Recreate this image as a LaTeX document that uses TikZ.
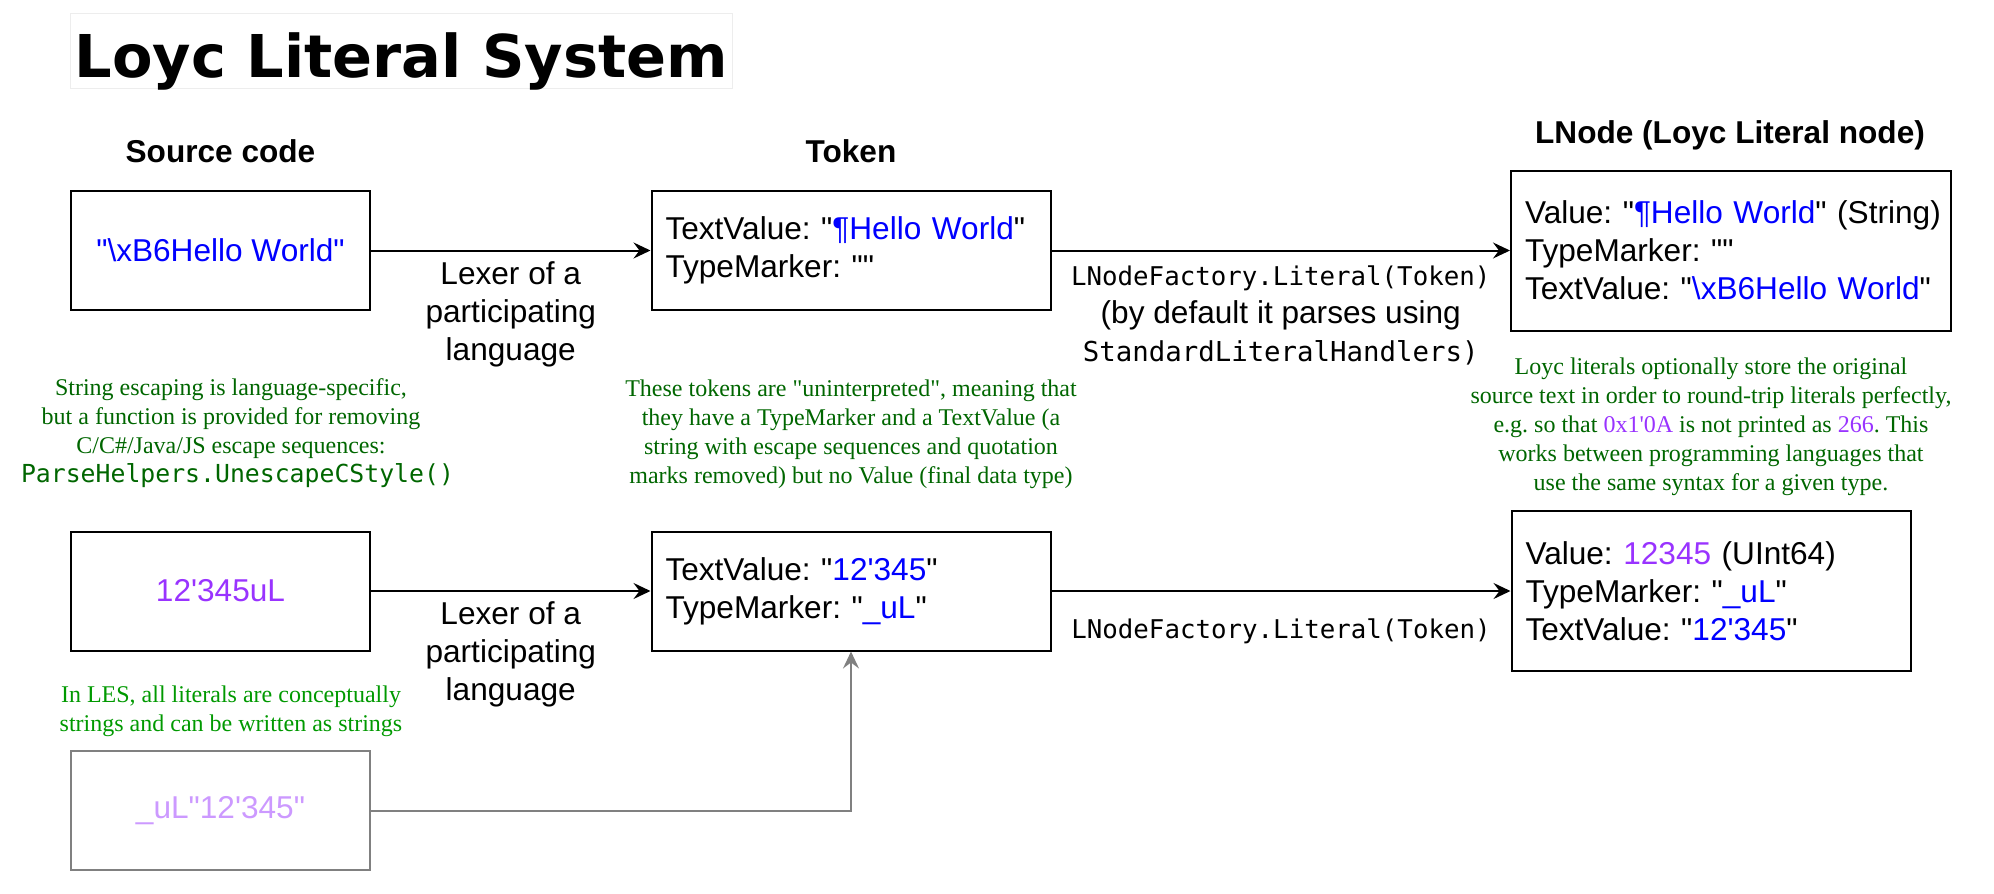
\documentclass[tikz,border=0pt]{standalone}
\usepackage{fontspec}
\setmainfont{Liberation Sans}[Ligatures=TeXOff]
\setmonofont{DejaVu Sans Mono}
\newfontfamily\notefont{Liberation Serif}[Ligatures=TeXOff]
\newfontfamily\titlefont{DejaVu Sans}[Ligatures=TeXOff]
\usepackage{xcolor}
\usetikzlibrary{arrows.meta}
\frenchspacing
\definecolor{litblue}{HTML}{0000FF}
\definecolor{litpurple}{HTML}{9933FF}
\definecolor{lespurple}{HTML}{CC99FF}
\definecolor{lesgray}{HTML}{808080}
\definecolor{notegreen}{HTML}{006600}
\definecolor{lesgreen}{HTML}{009900}
\definecolor{titleframe}{HTML}{EDEDED}
\newcommand{\boxfont}{\fontsize{15.8}{19}\selectfont}
\tikzset{
  titlebox/.style={
    draw=titleframe,
    line width=0.5pt,
    minimum width=331pt,
    text height=32pt,
    text depth=5.5pt,
    inner xsep=0pt,
    inner ysep=0pt,
    font=\titlefont\bfseries\fontsize{29.5}{35}\selectfont
  },
  headtext/.style={anchor=base,inner sep=0pt,font=\bfseries\boxfont},
  codebox/.style={
    draw=black,
    line width=1pt,
    minimum width=149.5pt,
    minimum height=59.5pt,
    font=\boxfont
  },
  fieldbox/.style={
    draw=black,
    line width=1pt,
    align=left,
    inner xsep=7pt,
    text width=#1,
    font=\boxfont
  },
  edgetext/.style={align=center,inner sep=0pt,font=\boxfont},
  notetext/.style={
    align=center,
    inner sep=0pt,
    text=notegreen,
    font=\notefont\fontsize{12}{14.5}\selectfont
  },
  dataflow/.style={-{Stealth[length=8.5pt,width=8pt,inset=3pt]},line width=1pt,draw=black},
  lesflow/.style={dataflow,draw=lesgray}
}
\begin{document}
\begin{tikzpicture}[x=0.5pt,y=-0.5pt]
  \useasboundingbox (0,0) rectangle (1994,894);
  \node[titlebox] (title) at (401.5,50.5) {Loyc Literal System};
  \node[headtext] (srchead) at (220.5,162) {Source code};
  \node[headtext] (tokhead) at (851,162) {Token};
  \node[headtext] (lithead) at (1730,143) {LNode (Loyc Literal node)};

  \node[codebox] (src1) at (220.5,250.5) {\textcolor{litblue}{"\textbackslash xB6Hello World"}};
  \node[fieldbox=185.5pt,minimum height=59.5pt] (tok1) at (851,250.5)
    {TextValue: "\textcolor{litblue}{¶Hello World}"\\TypeMarker: ""};
  \node[fieldbox=206pt,minimum height=80pt] (lit1) at (1731,250.5)
    {Value:~"\textcolor{litblue}{¶Hello~World}"~(String)\\TypeMarker: ""\\TextValue: "\textcolor{litblue}{\textbackslash xB6Hello World}"};

  \node[codebox] (src2) at (220.5,591) {\textcolor{litpurple}{12'345uL}};
  \node[fieldbox=185.5pt,minimum height=59.5pt] (tok2) at (851,591)
    {TextValue: "\textcolor{litblue}{12'345}"\\TypeMarker: "\textcolor{litblue}{\_uL}"};
  \node[fieldbox=185.5pt,minimum height=80pt] (lit2) at (1711,591)
    {Value: \textcolor{litpurple}{12345} (UInt64)\\TypeMarker: "\textcolor{litblue}{\_uL}"\\TextValue: "\textcolor{litblue}{12'345}"};
  \node[codebox,draw=lesgray] (les) at (220.5,810.5) {\textcolor{lespurple}{\_uL"12'345"}};

  \node[notetext] (escnote) at (231,433)
    {String escaping is language-specific,\\but a function is provided for removing\\C/C\#/Java/JS escape sequences:\\\hspace*{6.5pt}{\ttfamily\fontsize{12.4}{14.5}\selectfont ParseHelpers.UnescapeCStyle()}};
  \node[notetext] (toknote) at (851,434)
    {These tokens are "uninterpreted", meaning that\\they have a TypeMarker and a TextValue (a\\string with escape sequences and quotation\\marks removed) but no Value (final data type)};
  \node[notetext] (litnote) at (1711,426.5)
    {Loyc literals optionally store the original\\source text in order to round-trip literals perfectly,\\e.g. so that \textcolor{litpurple}{0x1'0A} is not printed as \textcolor{litpurple}{266}. This\\works between programming languages that\\use the same syntax for a given type.};
  \node[notetext,text=lesgreen] (lesnote) at (231,711.5)
    {In LES, all literals are conceptually\\strings and can be written as strings};

  \draw[dataflow] (src1) -- node[edgetext,below=5pt] (lexer1) {Lexer of a\\participating\\language} (tok1);
  \draw[dataflow] (tok1) -- node[edgetext,below=7pt] (factory1)
    {{\ttfamily\fontsize{12.9}{19}\selectfont LNodeFactory.Literal(Token)}\\(by default it parses using\\{\ttfamily\fontsize{13.7}{19}\selectfont StandardLiteralHandlers)}} (lit1);
  \draw[dataflow] (src2) -- node[edgetext,below=5pt] (lexer2) {Lexer of a\\participating\\language} (tok2);
  \draw[dataflow] (tok2) -- node[edgetext,below=13.5pt,font=\ttfamily\fontsize{12.9}{19}\selectfont] (factory2)
    {LNodeFactory.Literal(Token)} (lit2);
  \draw[lesflow] (les) -| (tok2);
\end{tikzpicture}
\end{document}
